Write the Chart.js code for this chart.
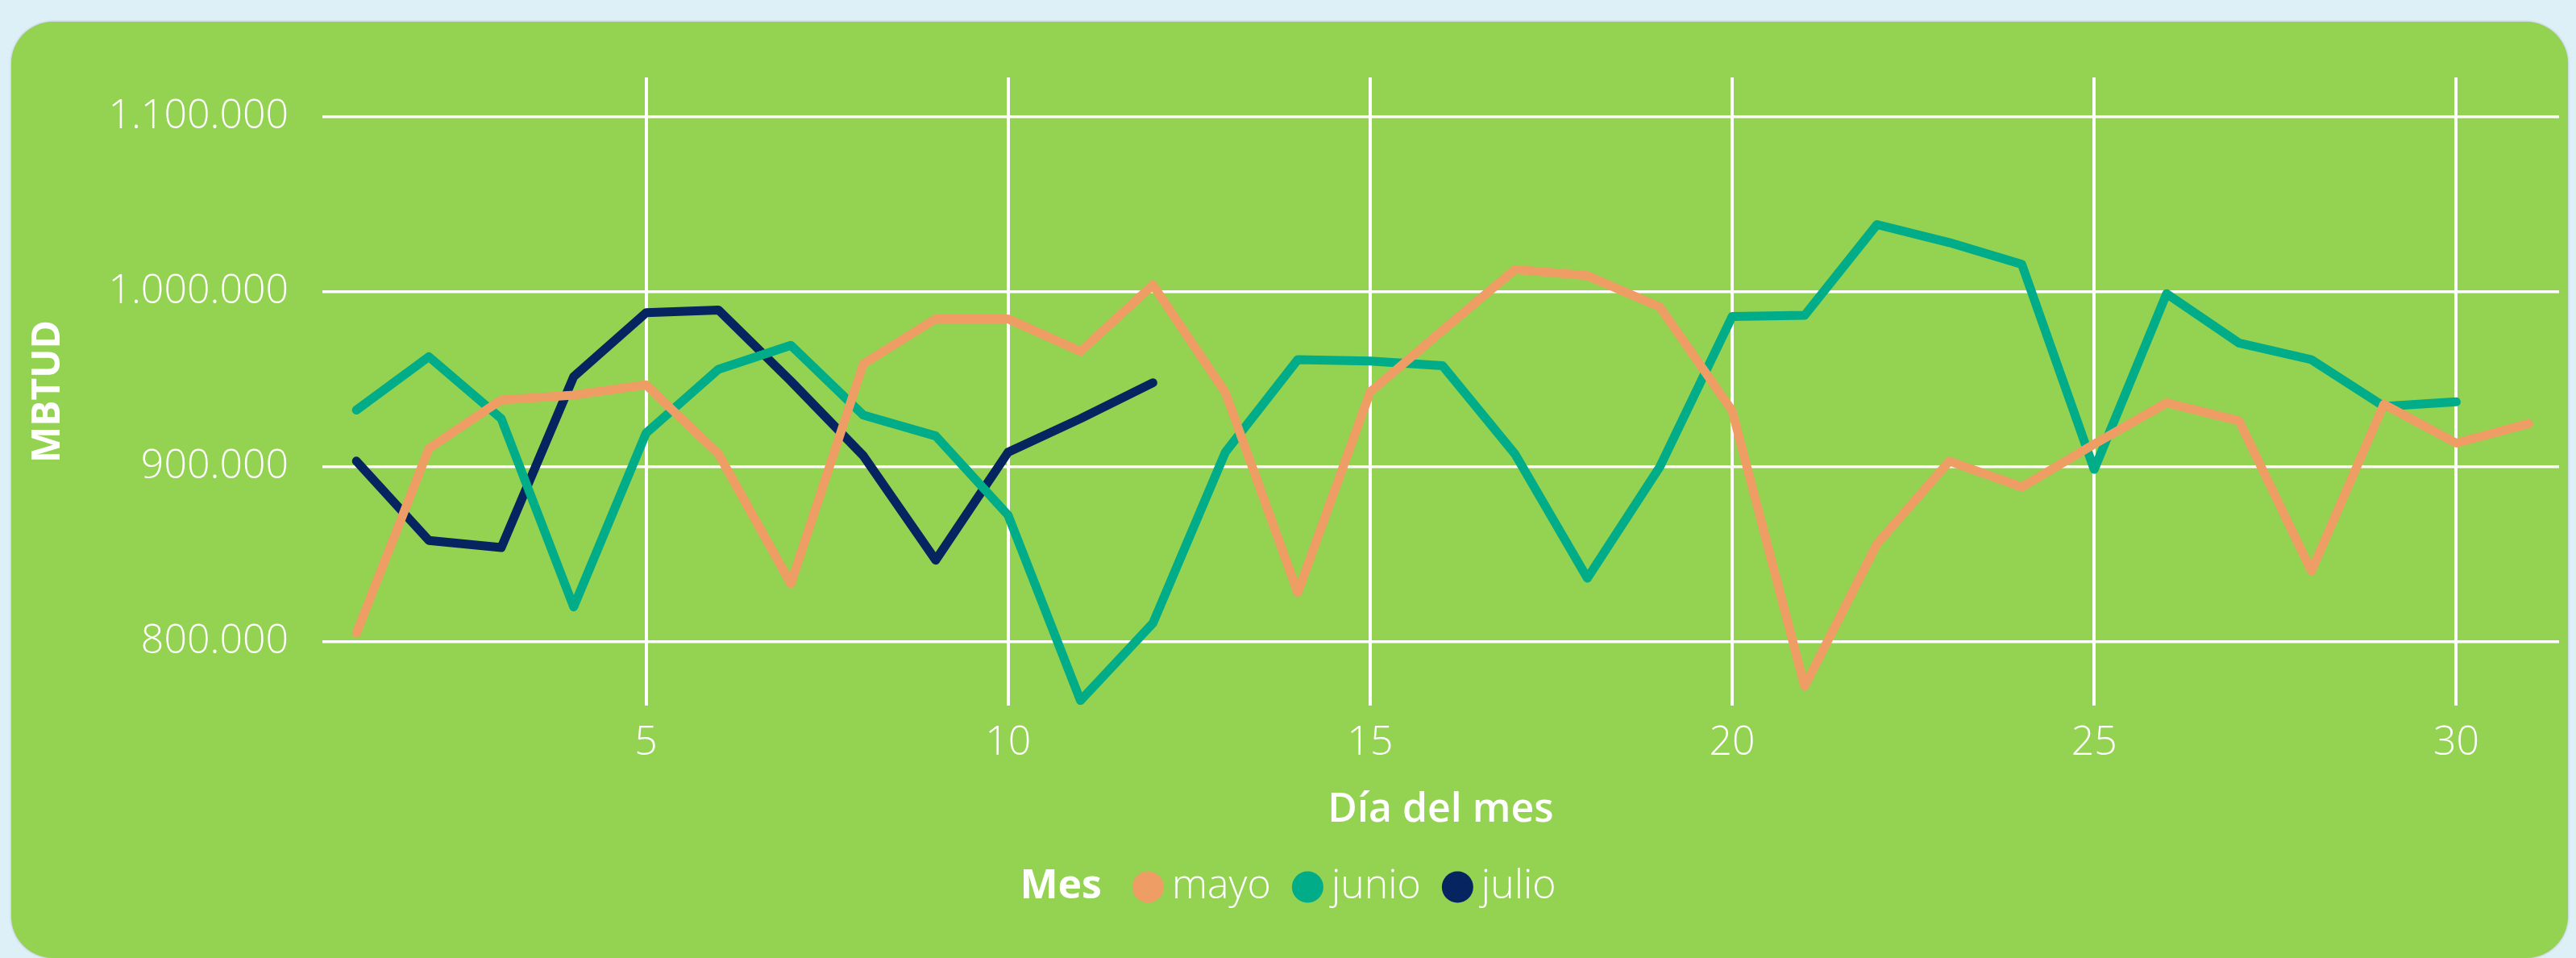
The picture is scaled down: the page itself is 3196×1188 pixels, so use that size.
<!DOCTYPE html>
<html>
<head>
<meta charset="utf-8">
<script src="https://cdn.jsdelivr.net/npm/chart.js@4"></script>
<style>
  html, body { margin: 0; padding: 0; width: 3196px; height: 1188px; background: #ddeff7; overflow: hidden; }
  .tarjeta { position: absolute; left: 14px; top: 27px; width: 3172px; height: 1161px; background: #94d251; border-radius: 52px; box-shadow: 0 0 3px rgba(0, 0, 0, 0.25); }
  #grafico { position: absolute; left: 0; top: 0; }
</style>
</head>
<body>
<div class="tarjeta"></div>
<canvas id="grafico" width="3196" height="1188"></canvas>
<script>
// Días del mes (eje x)
const dias = [1, 2, 3, 4, 5, 6, 7, 8, 9, 10, 11, 12, 13, 14, 15, 16, 17, 18, 19, 20, 21, 22, 23, 24, 25, 26, 27, 28, 29, 30, 31];

// MBTUD por día
const mayo = [805000, 910500, 938300, 941000, 946900, 907400, 833300, 958800, 984600, 984600,
  966000, 1004000, 942600, 828200, 942800, 978000, 1012800, 1009300, 991400, 932100,
  774700, 856000, 903300, 888500, 913000, 936600, 926300, 840500, 935800, 913600, 924700];
const junio = [932500, 963000, 927600, 820000, 919300, 955800, 969500, 929600, 917700, 872400,
  766500, 810700, 908400, 961300, 960500, 957800, 907400, 836400, 900000, 986000,
  986600, 1038500, 1028200, 1015800, 898600, 999000, 970800, 961300, 934600, 937200];
const julio = [903300, 858000, 853900, 951600, 988100, 989700, 949000, 906400, 846700, 908400,
  927600, 948100];

const meses = ["mayo", "junio", "julio"];
const colores = ["#ee9e64", "#01ac88", "#06245f"];

const ticksX = [5, 10, 15, 20, 25, 30];
const ticksY = [800000, 900000, 1000000, 1100000];

const fuente = "'Open Sans', 'Noto Sans', sans-serif";
Chart.defaults.font.family = fuente;
Chart.defaults.color = "#ffffff";

function puntos(serie) {
  return serie.map((v, i) => ({ x: dias[i], y: v }));
}

function miles(v) {
  return String(v).replace(/\B(?=(\d{3})+(?!\d))/g, ".");
}

// Leyenda en una sola línea: "Mes" + círculos
const leyenda = {
  id: "leyenda",
  afterDraw(chart) {
    const ctx = chart.ctx;
    const y = chart.height - 88;
    const r = 19.5;
    ctx.save();
    ctx.textBaseline = "middle";
    ctx.textAlign = "left";

    ctx.font = "700 50px " + fuente;
    const anchoTitulo = ctx.measureText("Mes").width;
    ctx.font = "300 50px " + fuente;
    const anchos = meses.map(m => ctx.measureText(m).width);

    let total = anchoTitulo + 38;
    anchos.forEach((w, i) => { total += r * 2 + 10 + w + (i < anchos.length - 1 ? 26 : 0); });

    let x = chart.width / 2 - total / 2;
    ctx.fillStyle = "#ffffff";
    ctx.font = "700 50px " + fuente;
    ctx.fillText("Mes", x, y);
    x += anchoTitulo + 38;

    ctx.font = "300 50px " + fuente;
    meses.forEach((m, i) => {
      ctx.fillStyle = colores[i];
      ctx.beginPath();
      ctx.arc(x + r, y, r, 0, Math.PI * 2);
      ctx.fill();
      x += r * 2 + 10;
      ctx.fillStyle = "#ffffff";
      ctx.fillText(m, x, y);
      x += anchos[i] + 26;
    });
    ctx.restore();
  }
};

const series = [mayo, junio, julio];

new Chart(document.getElementById("grafico"), {
  type: "line",
  data: {
    datasets: series.map((s, i) => ({
      label: meses[i],
      data: puntos(s),
      borderColor: colores[i],
      backgroundColor: colores[i],
      borderWidth: 11,
      borderCapStyle: "round",
      borderJoinStyle: "round",
      pointRadius: 0,
      tension: 0
    }))
  },
  options: {
    responsive: false,
    animation: false,
    devicePixelRatio: 1,
    events: [],
    layout: {
      padding: { top: 96, right: 21, bottom: 153, left: 0 }
    },
    plugins: {
      legend: { display: false },
      tooltip: { enabled: false }
    },
    scales: {
      x: {
        type: "linear",
        min: 0.53,
        max: 31.42,
        afterBuildTicks: scale => { scale.ticks = ticksX.map(v => ({ value: v })); },
        afterFit: scale => { scale.height = 160; },
        grid: { color: "#ffffff", lineWidth: 4, drawTicks: false },
        border: { display: false },
        ticks: {
          padding: 17,
          color: "#ffffff",
          font: { size: 50, weight: 300 }
        },
        title: {
          display: true,
          text: "Día del mes",
          color: "#ffffff",
          font: { size: 50, weight: 600 },
          padding: { top: 0, bottom: 0 }
        }
      },
      y: {
        min: 763600,
        max: 1122600,
        afterBuildTicks: scale => { scale.ticks = ticksY.map(v => ({ value: v })); },
        afterFit: scale => { scale.width = 400; },
        grid: { color: "#ffffff", lineWidth: 3.5, drawTicks: false },
        border: { display: false },
        ticks: {
          padding: 42,
          color: "#ffffff",
          font: { size: 50, weight: 300 },
          callback: v => miles(v)
        },
        title: {
          display: true,
          text: "MBTUD",
          color: "#ffffff",
          font: { size: 48, weight: 700 },
          padding: { top: 32, bottom: 0 }
        }
      }
    }
  },
  plugins: [leyenda]
});
</script>
</body>
</html>
